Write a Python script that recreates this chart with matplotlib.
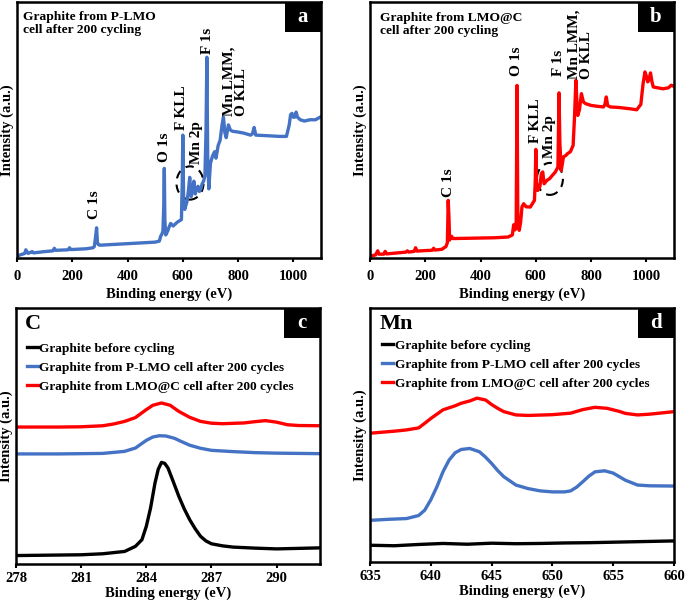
import matplotlib
matplotlib.use("Agg")
import matplotlib.pyplot as plt
from matplotlib.patches import Rectangle, Ellipse

plt.rcParams['font.family'] = ['Liberation Serif', 'DejaVu Serif']
plt.rcParams['font.weight'] = 'bold'
plt.rcParams['axes.labelweight'] = 'bold'

BLUE = '#4472C4'
RED = '#FF0000'

# ---- survey spectra (a, b) ----
a_x = [0, 20, 28, 32, 40, 55, 60, 100, 130, 135, 140, 185, 190, 195, 250, 275, 280, 284, 288, 291, 295,
       300, 350, 400, 450, 500, 515, 520, 525, 528, 531, 533, 535, 538, 545, 550, 556, 565, 580, 595, 598,
       600, 603, 607, 615, 620, 625, 630, 635, 640, 645, 650, 655, 660, 665, 670, 675, 680, 684, 687, 690,
       694, 700, 708, 715, 720, 728, 735, 742, 747, 752, 757, 765, 772, 780, 800, 820, 845, 852, 858, 864,
       900, 950, 975, 985, 990, 995, 1000, 1005, 1010, 1015, 1025, 1040, 1060, 1080, 1100]
a_y = [0.8, 1.5, 1.8, 3.2, 1.8, 2.5, 2.0, 2.5, 2.8, 3.8, 3.0, 3.2, 4.0, 3.3, 3.6, 4.0, 4.5, 8, 11.8, 6, 5.2,
       5.0, 5.3, 5.6, 5.9, 6.2, 6.6, 8.5, 9.5, 10.5, 20, 35, 15, 9, 10.5, 12, 13.5, 12.5, 14, 15, 30,
       48, 22, 19, 22, 26, 31.5, 24, 26, 30, 25, 27, 28, 26, 27, 29, 30, 32, 50, 78.4, 40,
       27, 37, 40, 41.5, 39, 44, 46, 52, 55, 49, 47, 52, 50, 49.5, 49.2, 48.8, 48, 48.5, 51, 48,
       47.8, 47.5, 47.5, 52, 56, 56.5, 55, 55, 57, 55, 54, 53.5, 54, 54, 55.2]

b_x = [0, 20, 28, 32, 50, 55, 60, 100, 130, 135, 140, 160, 165, 170, 200, 225, 230, 235, 260, 275, 280,
       283, 286, 288, 295, 300, 350, 400, 450, 500, 515, 520, 525, 529, 532, 535, 540, 545, 550, 556, 565,
       580, 595, 598, 600, 603, 607, 615, 620, 625, 630, 640, 650, 660, 670, 680, 682, 684, 687, 692, 700,
       708, 715, 725, 735, 740, 745, 749, 752, 758, 765, 772, 780, 800, 820, 845, 850, 855, 860, 870, 900,
       940, 965, 980, 988, 995, 1000, 1005, 1010, 1015, 1020, 1025, 1040, 1060, 1080, 1090, 1100]
b_y = [0.7, 1.2, 2.8, 1.5, 1.5, 2.6, 1.6, 2.0, 2.3, 2.8, 2.3, 2.6, 4.0, 2.7, 2.9, 3.0, 3.8, 3.1, 3.4, 4.5, 6,
       22.5, 15, 7, 8.5, 7.6, 7.7, 7.8, 7.9, 8.2, 9, 13, 11, 14, 67.4, 12, 10.8, 14, 20, 21.2, 20,
       19.9, 22.5, 30, 42.4, 27, 26.4, 28, 33, 33.6, 29, 30.3, 31, 32.3, 33.5, 35.5, 50, 64.5, 45, 34.2, 39.5,
       40, 40.8, 41.5, 44, 55, 69.4, 60, 55.7, 58, 64.2, 61, 60.3, 59.6, 59.3, 59, 60, 62.9, 59.5, 59, 58.8,
       58.3, 57.9, 60, 68, 72.7, 71, 68.8, 70, 72.3, 69, 66.8, 66.5, 66.1, 66.5, 67.5, 67]

# ---- C 1s (c) ----
c_black_x = [278, 279, 280, 281, 282, 283, 283.5, 283.8, 284, 284.2, 284.4, 284.55, 284.7, 284.85, 285.0,
             285.25, 285.5, 285.75, 286, 286.25, 286.5, 286.75, 287, 287.5, 288, 289, 290, 291, 292]
c_black_y = [3.3, 3.4, 3.5, 3.6, 4.0, 4.9, 6.9, 9.5, 14.7, 22, 31.6, 37, 39.7, 39.3, 37.5,
             32, 26.4, 21.5, 17.3, 13.8, 10.8, 9.0, 7.9, 7.1, 6.6, 6.2, 5.9, 6.1, 6.3]
c_blue_x = [278, 280, 282, 283, 283.5, 284, 284.3, 284.6, 284.9, 285.3, 285.6, 286, 286.5, 287, 288, 289, 290, 292]
c_blue_y = [43.0, 43.0, 43.2, 44.0, 45.3, 48.3, 49.6, 50.1, 50.0, 49.1, 47.9, 46.4, 45.2, 44.4, 43.9, 43.5, 43.3, 43.1]
c_red_x = [278, 280, 281, 282, 282.5, 283, 283.5, 284, 284.3, 284.7, 285.1, 285.5, 286, 286.5, 287, 287.5,
           288.5, 289, 289.5, 290, 290.5, 291, 292]
c_red_y = [53.5, 53.5, 53.6, 54.0, 54.7, 55.7, 57.2, 60.3, 62.0, 62.9, 62.0, 59.6, 57.3, 55.7, 55.0, 54.8,
           55.1, 55.6, 56.0, 55.4, 54.4, 54.1, 54.0]

# ---- Mn 2p (d) ----
d_black_x = [635, 637, 639, 641, 643, 645, 647, 649, 651, 653, 655, 657, 660]
d_black_y = [6.6, 6.4, 6.9, 7.3, 7.0, 7.4, 7.2, 7.3, 7.5, 7.6, 7.8, 8.0, 8.3]
d_blue_x = [635, 636.5, 638, 639, 639.5, 640, 640.5, 641, 641.5, 642, 642.5, 643.2, 644, 644.5, 645, 645.5,
            646, 647, 648, 649, 650, 651, 651.5, 652, 652.5, 653, 653.5, 654.3, 655, 655.5, 656, 657, 658, 660]
d_blue_y = [16.4, 16.8, 17.1, 18.3, 20.4, 24.5, 29.6, 35.5, 40.1, 43.0, 44.3, 44.7, 43.4, 41.3, 38.8, 36.0,
            33.6, 30.3, 28.9, 28.0, 27.6, 27.6, 28.0, 29.5, 31.6, 33.8, 35.5, 35.9, 35.0, 33.6, 32.2, 30.3, 30.0, 29.9]
d_red_x = [635, 637, 638, 639, 639.5, 640, 641, 642, 642.5, 643.2, 643.8, 644.5, 645, 645.5, 646, 647,
           648, 650, 651.5, 652.5, 653.5, 654.5, 655.5, 656, 657, 658, 660]
d_red_y = [50.7, 51.5, 52.0, 52.8, 54.6, 56.5, 59.9, 61.5, 62.5, 63.4, 64.5, 63.8, 62.0, 60.5, 59.2, 57.9,
           57.7, 58.0, 58.6, 60.0, 60.9, 60.5, 59.3, 58.5, 57.9, 58.2, 59.2]

legend_labels = ['Graphite before cycling',
                 'Graphite from P-LMO cell after 200 cycles',
                 'Graphite from LMO@C cell after 200 cycles']

W, H = 685, 605
fig = plt.figure(figsize=(W / 100, H / 100), dpi=100)


def add_ax(left, top, right, bottom):
    return fig.add_axes([left / W, 1 - bottom / H, (right - left) / W, (bottom - top) / H])


def style(ax, letter, pad=6, labelpad=3):
    for s in ax.spines.values():
        s.set_linewidth(1.8)
    ax.set_yticks([])
    ax.tick_params(axis='x', direction='out', length=3, width=1.5, labelsize=10.5, pad=pad)
    ax.set_ylabel('Intensity (a.u.)', fontsize=10.5, labelpad=2)
    ax.set_xlabel('Binding energy (eV)', fontsize=10.5, labelpad=labelpad)
    bw, bh = 36 / 304, 30 / 256
    ax.add_patch(Rectangle((1 - bw, 1 - bh), bw, bh, transform=ax.transAxes,
                           facecolor='black', edgecolor='none', zorder=5, clip_on=False))
    ax.text(1 - bw / 2, 1 - bh / 2, letter, transform=ax.transAxes, color='white',
            fontsize=15, ha='center', va='center', zorder=6)


def peak_labels(ax, labels):
    for txt, x, y in labels:
        ax.text(x, y, txt, rotation=90, ha='center', va='center', fontsize=11,
                multialignment='left', linespacing=1.0)


leg_kw = dict(loc='upper left', frameon=False, fontsize=9.6, handlelength=0.85,
              handletextpad=0.1, labelspacing=0.5, borderpad=0, borderaxespad=0)

# panel a
ax = add_ax(17, 2, 321, 258)
ax.plot(a_x, a_y, color=BLUE, lw=2.4)
ax.set_xlim(0, 1100)
ax.set_ylim(0, 100)
ax.set_xticks(range(0, 1001, 200))
style(ax, 'a')
ax.text(0.02, 0.965, 'Graphite from P-LMO\ncell after 200 cycling', transform=ax.transAxes,
        ha='left', va='top', fontsize=9.7, linespacing=1.1)
peak_labels(ax, [('C 1s', 282, 20.7), ('O 1s', 532, 43.4), ('F KLL', 597, 58.6),
                 ('Mn 2p', 651, 45), ('F 1s', 691, 85), ('Mn LMM,\nO KLL', 790, 69)])
ax.add_patch(Ellipse((626, 29.3), 98, 13, fill=False, ls=(0, (4, 3)), lw=1.5, color='black'))

# panel b
ax = add_ax(370, 2, 674, 258)
ax.plot(b_x, b_y, color=RED, lw=2.4)
ax.set_xlim(0, 1100)
ax.set_ylim(0, 100)
ax.set_xticks(range(0, 1001, 200))
style(ax, 'b')
ax.text(0.033, 0.96, 'Graphite from LMO@C\ncell after 200 cycling', transform=ax.transAxes,
        ha='left', va='top', fontsize=9.7, linespacing=1.1)
peak_labels(ax, [('C 1s', 283, 29.5), ('O 1s', 531, 76.7), ('F KLL', 600, 53.5),
                 ('Mn 2p', 651, 47.4), ('F 1s', 681, 76.4), ('Mn LMM,\nO KLL', 760, 83.4)])
ax.add_patch(Ellipse((651, 30.9), 94, 12.5, fill=False, ls=(0, (4, 3)), lw=1.5, color='black'))

# panel c
ax = add_ax(16, 308, 320, 564)
ax.plot(c_black_x, c_black_y, color='black', lw=2.4, label=legend_labels[0])
ax.plot(c_blue_x, c_blue_y, color=BLUE, lw=2.4, label=legend_labels[1])
ax.plot(c_red_x, c_red_y, color=RED, lw=2.4, label=legend_labels[2])
ax.set_xlim(278, 292)
ax.set_ylim(0, 100)
ax.set_xticks(range(278, 292, 3))
style(ax, 'c', pad=3, labelpad=1)
ax.text(0.03, 0.975, 'C', transform=ax.transAxes, ha='left', va='top', fontsize=16)
ax.legend(bbox_to_anchor=(0.035, 0.865), **leg_kw)

# panel d
ax = add_ax(370, 308, 674, 562)
ax.plot(d_black_x, d_black_y, color='black', lw=2.4, label=legend_labels[0])
ax.plot(d_blue_x, d_blue_y, color=BLUE, lw=2.4, label=legend_labels[1])
ax.plot(d_red_x, d_red_y, color=RED, lw=2.4, label=legend_labels[2])
ax.set_xlim(635, 660)
ax.set_ylim(0, 100)
ax.set_xticks(range(635, 661, 5))
style(ax, 'd', pad=3, labelpad=1)
ax.text(0.03, 0.975, 'Mn', transform=ax.transAxes, ha='left', va='top', fontsize=16)
ax.legend(bbox_to_anchor=(0.04, 0.875), **leg_kw)

fig.savefig('out.png', dpi=100)
